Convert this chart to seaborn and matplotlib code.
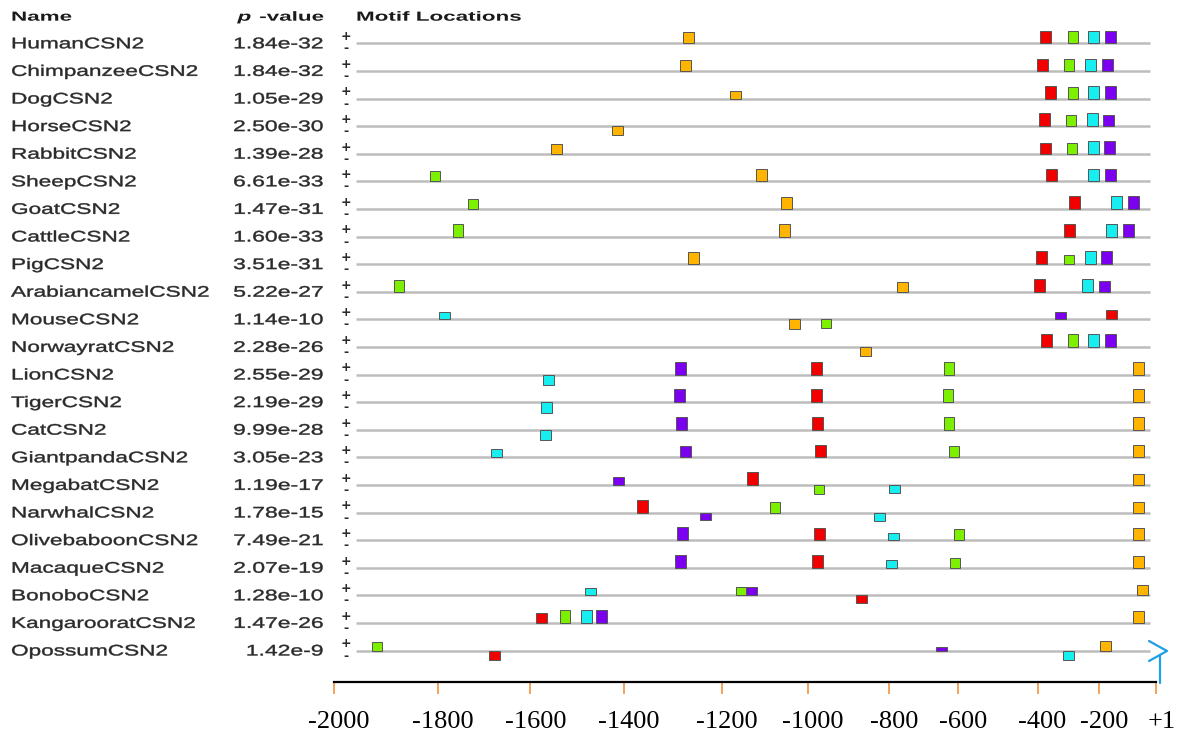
import numpy as np
import pandas as pd
import matplotlib
matplotlib.use("Agg")
import matplotlib.pyplot as plt
import seaborn as sns
from matplotlib.patheffects import AbstractPathEffect
from matplotlib.transforms import Affine2D, blended_transform_factory
from matplotlib.lines import Line2D
from matplotlib.ticker import NullLocator

# ---- data ----
names = ["HumanCSN2", "ChimpanzeeCSN2", "DogCSN2", "HorseCSN2", "RabbitCSN2",
         "SheepCSN2", "GoatCSN2", "CattleCSN2", "PigCSN2", "ArabiancamelCSN2",
         "MouseCSN2", "NorwayratCSN2", "LionCSN2", "TigerCSN2", "CatCSN2",
         "GiantpandaCSN2", "MegabatCSN2", "NarwhalCSN2", "OlivebaboonCSN2",
         "MacaqueCSN2", "BonoboCSN2", "KangarooratCSN2", "OpossumCSN2"]
p_values = ["1.84e-32", "1.84e-32", "1.05e-29", "2.50e-30", "1.39e-28",
            "6.61e-33", "1.47e-31", "1.60e-33", "3.51e-31", "5.22e-27",
            "1.14e-10", "2.28e-26", "2.55e-29", "2.19e-29", "9.99e-28",
            "3.05e-23", "1.19e-17", "1.78e-15", "7.49e-21", "2.07e-19",
            "1.28e-10", "1.47e-26", "1.42e-9"]

# motif centre positions (bp, upstream of +1), one per sequence
orange_pos = [-1268, -1274, -1168, -1413, -1544, -1107, -1050, -1055, -1257, -762,
              -1032, -858, -63, -63, -63, -63, -63, -63, -63, -63, -49, -63, -180]
red_pos = [-375, -385, -358, -379, -374, -356, -281, -298, -387, -393,
           -156, -372, -978, -980, -976, -969, -1130, -1361, -971, -977, -869, -1576, -1677]
green_pos = [-287, -297, -287, -293, -290, -1805, -1723, -1756, -298, -1875,
             -955, -287, -626, -629, -626, -611, -973, -1077, -597, -608, -1156, -1525, -1916]
cyan_pos = [-218, -229, -218, -223, -220, -218, -139, -156, -230, -237,
            -1785, -218, -1562, -1565, -1568, -1673, -785, -824, -787, -794, -1472, -1480, -301]
purple_pos = [-162, -173, -162, -167, -163, -161, -79, -98, -174, -182,
              -327, -162, -1285, -1287, -1283, -1275, -1410, -1234, -1280, -1284, -1132, -1447, -649]

orange_strand = list("+++-" + "++++++" + "--" + "+" * 11)
red_strand = list("+" * 20 + "-+-")
green_strand = list("+" * 10 + "-" + "+" * 5 + "-" + "+" * 6)
cyan_strand = list("+" * 12 + "---" + "+" + "--" + "++++" + "-")
purple_strand = list("+" * 17 + "-" + "+" * 5)

# relative match strength (box height, 1 = strongest)
orange_sig = [0.87, 0.84, 0.6, 0.69, 0.79, 1.0, 0.92, 0.95, 0.97, 0.73, 0.73, 0.71,
              1.0, 1.0, 1.0, 0.97, 0.87, 0.81, 0.97, 0.95, 0.84, 0.92, 0.76]
red_sig = [1.0, 0.97, 0.97, 1.0, 0.84, 1.0, 1.0, 0.97, 1.0, 1.0, 0.76, 1.0,
           1.0, 1.0, 1.0, 1.0, 1.0, 1.0, 0.97, 0.97, 0.63, 0.79, 0.73]
green_sig = [1.0, 0.97, 0.92, 0.84, 0.84, 0.81, 0.81, 0.95, 0.73, 0.95, 0.68, 1.0,
             1.0, 1.0, 1.0, 0.89, 0.71, 0.84, 0.84, 0.79, 0.68, 1.0, 0.63]
cyan_sig = [1.0, 0.97, 0.97, 1.0, 1.0, 1.0, 1.0, 1.0, 1.0, 1.0, 0.58, 1.0,
            0.79, 0.84, 0.81, 0.68, 0.66, 0.63, 0.58, 0.63, 0.58, 1.0, 0.73]
purple_sig = [1.0, 0.97, 1.0, 0.84, 1.0, 0.95, 1.0, 1.0, 1.0, 0.87, 0.58, 1.0,
              1.0, 1.0, 1.0, 0.89, 0.63, 0.58, 1.0, 1.0, 0.63, 1.0, 0.24]

track_start, track_end = -1957, -21
ruler_ticks = [-2000, -1800, -1600, -1400, -1200, -1000, -800, -600, -400, -200, 1]
ruler_labels = ["-2000", "-1800", "-1600", "-1400", "-1200", "-1000",
                "-800", "-600", "-400", "-200", "+1"]

# ---- layout (pixels of the 1181x734 canvas) ----
W, H = 1181, 734
RULER_PX = [333.7, 437.6, 530.3, 623.6, 721.9, 807.9, 889.3, 957.9, 1037.6, 1099.4, 1156.2]
ROW0, STEP = 43.3, 27.6
TOP_PX, BOT_PX = 25, 682
BOX_H = 12.7 / STEP
BOX_W = {"M1": 11, "M2": 11, "M3": 10, "M4": 11, "M5": 11}
TXT = "#2a2a2a"

motifs = {
    "M1": (orange_pos, orange_strand, orange_sig, "#FFB400"),
    "M2": (red_pos, red_strand, red_sig, "#F20000"),
    "M3": (green_pos, green_strand, green_sig, "#7CF000"),
    "M4": (cyan_pos, cyan_strand, cyan_sig, "#17EEF0"),
    "M5": (purple_pos, purple_strand, purple_sig, "#7B00F0"),
}
frames = []
for key, (pos, strand, sig, _) in motifs.items():
    frames.append(pd.DataFrame({"motif": key, "row": np.arange(len(names)),
                                "pos": pos, "strand": strand, "sig": sig}))
df = pd.concat(frames, ignore_index=True)
palette = dict(zip(motifs.keys(), sns.color_palette([m[3] for m in motifs.values()])))


class StretchX(AbstractPathEffect):
    """Widen rendered text horizontally about its aligned edge."""
    def __init__(self, sx, anchor="left", lw=0.0):
        super().__init__()
        self.sx = sx
        self.anchor = anchor
        self.lw = lw

    def draw_path(self, renderer, gc, tpath, affine, rgbFace=None):
        ext = tpath.get_extents()
        x0 = ext.x1 if self.anchor == "right" else 0
        t = Affine2D().translate(-x0, 0).scale(self.sx, 1).translate(x0, 0)
        gc0 = renderer.new_gc()
        gc0.copy_properties(gc)
        if self.lw > 0:
            gc0.set_linewidth(self.lw)
            gc0.set_foreground(rgbFace)
        renderer.draw_path(gc0, tpath, t + affine, rgbFace)
        gc0.restore()


sns.set_theme(style="white")
plt.rcParams["font.family"] = ["Liberation Sans", "DejaVu Sans"]

fig = plt.figure(figsize=(W / 100, H / 100), dpi=100)


def fx(px):
    return px / W


def fy(py):
    return 1 - py / H


ax = fig.add_axes([fx(RULER_PX[0]), fy(BOT_PX), fx(RULER_PX[-1]) - fx(RULER_PX[0]),
                   (BOT_PX - TOP_PX) / H])


def fwd(v):
    return np.interp(v, ruler_ticks, RULER_PX)


def inv(p):
    return np.interp(p, RULER_PX, ruler_ticks)


ax.set_xscale("function", functions=(fwd, inv))
ax.set_xlim(ruler_ticks[0], ruler_ticks[-1])
ax.set_ylim((BOT_PX - ROW0) / STEP, (TOP_PX - ROW0) / STEP)

rows = np.arange(len(names))
ax.hlines(rows, track_start, track_end, color="#bdbdbd", lw=1.8, zorder=1)

for _, r in df.iterrows():
    c = fwd(r["pos"])
    bw = BOX_W[r["motif"]]
    left, right = inv(c - bw / 2), inv(c + bw / 2)
    h = r["sig"] * BOX_H
    ax.bar(left, -h if r["strand"] == "+" else h, width=right - left, bottom=r["row"],
           align="edge", color=palette[r["motif"]], edgecolor="#555555",
           linewidth=0.7, zorder=3)

# ruler
sns.despine(ax=ax, left=True)
ax.spines["bottom"].set_color("black")
ax.spines["bottom"].set_linewidth(1.6)
ax.set_yticks([])
ax.xaxis.set_minor_locator(NullLocator())
ax.set_xticks(ruler_ticks, ruler_labels)
ax.tick_params(axis="x", bottom=True, direction="out", length=8.6, width=1.1,
               color="#F0892F", pad=12, labelsize=19, labelcolor="black")
for lab in ax.get_xticklabels():
    lab.set_fontfamily("Liberation Serif")
    lab.set_transform(lab.get_transform() + Affine2D().translate(5, 0))

# left columns
row_tr = blended_transform_factory(fig.transFigure, ax.transData)


def stext(x, y, s, tr, sx, anchor="left", lw=0.0, **kw):
    t = fig.text(x, y, s, transform=tr, ha=anchor, **kw)
    t.set_path_effects([StretchX(sx, anchor, lw)])
    return t


for i, (n, p) in enumerate(zip(names, p_values)):
    stext(fx(11), i + 0.18, n, row_tr, 1.48, lw=0.3, va="baseline", fontsize=11, color=TXT)
    stext(fx(323), i + 0.18, p, row_tr, 1.5, anchor="right", lw=0.3, va="baseline",
          fontsize=11, color=TXT)
    fig.text(fx(346), i - 0.24, "+", transform=row_tr, ha="center", va="center",
             fontsize=9, fontweight="bold", color=TXT, family="DejaVu Sans")
    fig.text(fx(346), i + 0.2, "-", transform=row_tr, ha="center", va="center",
             fontsize=9, fontweight="bold", color=TXT, family="DejaVu Sans")

# headers
stext(fx(11), fy(20.7), "Name", fig.transFigure, 1.7, va="baseline",
      fontsize=9.5, fontweight="bold", color="#1a1a1a")
stext(fx(324), fy(20.7), "-value", fig.transFigure, 1.7, anchor="right", va="baseline",
      fontsize=9.5, fontweight="bold", color="#1a1a1a")
stext(fx(251), fy(20.7), "p", fig.transFigure, 1.7, anchor="right", va="baseline",
      fontsize=9.5, fontweight="bold", fontstyle="italic", color="#1a1a1a")
stext(fx(356), fy(20.7), "Motif Locations", fig.transFigure, 1.7, va="baseline",
      fontsize=9.5, fontweight="bold", color="#1a1a1a")

# blue arrow marking the +1 end
blue = "#1E9FE6"
fig.add_artist(Line2D([fx(1149), fx(1167), fx(1149)], [fy(641), fy(651), fy(661)],
                      color=blue, lw=1.6, transform=fig.transFigure))
fig.add_artist(Line2D([fx(1160), fx(1160)], [fy(655), fy(683)],
                      color=blue, lw=1.6, transform=fig.transFigure))

fig.savefig("out.png", dpi=100)
